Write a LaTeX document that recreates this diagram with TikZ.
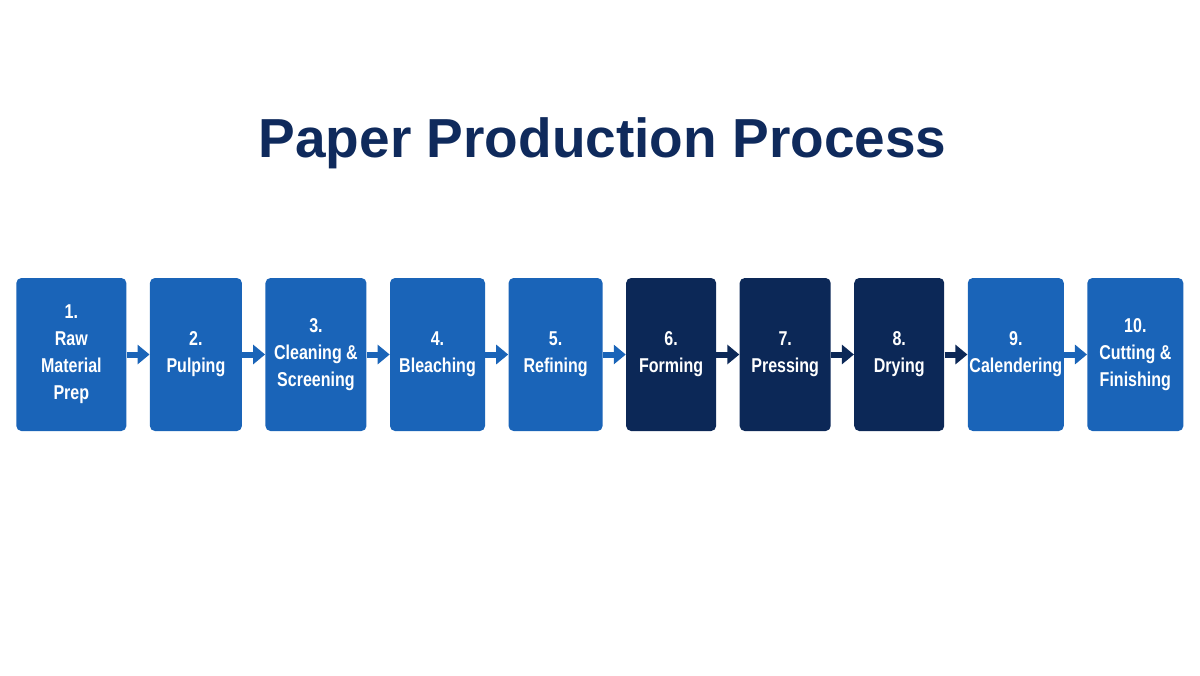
\documentclass[tikz,border=0pt]{standalone}
\usepackage{fontspec}
\setmainfont{Liberation Sans}
\newfontfamily\narrowfont{Liberation Sans}[FakeStretch=0.8]
\usepackage{tikz}
\usetikzlibrary{arrows.meta,positioning}

\definecolor{stepblue}{HTML}{1A64B8}
\definecolor{stepnavy}{HTML}{0C2857}
\definecolor{titlenavy}{HTML}{0F2A5C}

\begin{document}
\begin{tikzpicture}[
  node distance=0.457cm,
  stage/.style={rectangle, rounded corners=0.1cm, fill=stepblue, text=white,
                minimum height=3.06cm, inner sep=0pt, align=center,
                font=\narrowfont\bfseries\fontsize{11.4}{15.4}\selectfont},
  hot/.style={stage, fill=stepnavy},
  link/.style={-{Triangle[length=2.4mm,width=3.8mm]}, line width=1.2mm, stepblue},
  hotlink/.style={link, stepnavy},
]
  \useasboundingbox (0,0) rectangle (24,-13.5);

  % Title
  \node[font=\bfseries\fontsize{31.3}{36}\selectfont, text=titlenavy] (title)
    at (12.05,-2.86) {Paper Production Process};

  % Stages
  \node[stage, minimum width=2.2cm, anchor=west] (prep) at (0.32,-7.09)
    {1.\\Raw\\Material\\Prep};
  \node[stage, minimum width=1.84cm, right=of prep]   (pulp)  {2.\\Pulping};
  \node[stage, minimum width=2.02cm, right=of pulp]   (clean) {3.\\Cleaning \&\\Screening};
  \node[stage, minimum width=1.9cm, right=of clean]   (bleach){4.\\Bleaching};
  \node[stage, minimum width=1.88cm, right=of bleach] (refine){5.\\Refining};
  \node[hot, minimum width=1.8cm, right=of refine]    (form)  {6.\\Forming};
  \node[hot, minimum width=1.82cm, right=of form]     (press) {7.\\Pressing};
  \node[hot, minimum width=1.8cm, right=of press]     (dry)   {8.\\Drying};
  \node[stage, minimum width=1.92cm, right=of dry]    (cal)   {9.\\Calendering};
  \node[stage, minimum width=1.92cm, right=of cal]    (cut)   {10.\\Cutting \&\\Finishing};

  % Connectors
  \draw[link]    (prep)   -- (pulp);
  \draw[link]    (pulp)   -- (clean);
  \draw[link]    (clean)  -- (bleach);
  \draw[link]    (bleach) -- (refine);
  \draw[link]    (refine) -- (form);
  \draw[hotlink] (form)   -- (press);
  \draw[hotlink] (press)  -- (dry);
  \draw[hotlink] (dry)    -- (cal);
  \draw[link]    (cal)    -- (cut);
\end{tikzpicture}
\end{document}
